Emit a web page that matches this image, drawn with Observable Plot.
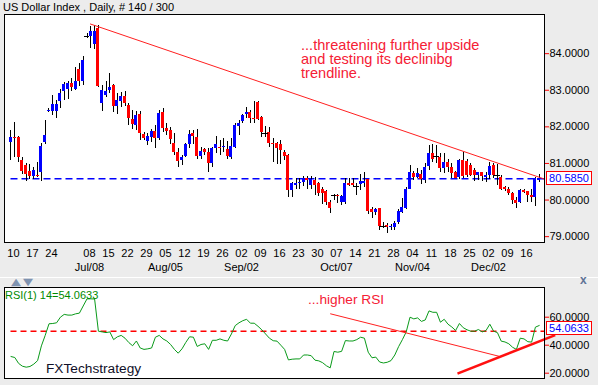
<!DOCTYPE html>
<html><head><meta charset="utf-8">
<script src="https://cdn.jsdelivr.net/npm/d3@7"></script>
<script src="https://cdn.jsdelivr.net/npm/@observablehq/plot@0.6"></script>
<style>
html,body{margin:0;padding:0;background:#ececec;}
#wrap{position:relative;width:598px;height:385px;overflow:hidden;background:#ececec;font-family:"Liberation Sans",Arial,sans-serif;}
.abs{position:absolute;white-space:nowrap;z-index:5;}
#title{left:3px;top:1px;font-size:11px;line-height:12px;color:#000;}
.note1{left:301px;font-size:14.6px;line-height:14px;color:#f52035;}
#note2{left:308px;top:293px;font-size:13.7px;line-height:14px;color:#f52035;}
#rsiLabel{left:5px;top:288.5px;font-size:11px;line-height:12px;color:#008a00;}
#brand{left:46px;top:362px;font-size:13.7px;line-height:14px;color:#101028;}
#sep{left:0;top:277px;width:598px;height:1px;background:#fff;}
#arrows{left:11px;top:278px;font-size:13px;line-height:9px;color:#7f93b0;letter-spacing:2px;font-family:"DejaVu Sans",sans-serif;transform:scaleY(0.75);transform-origin:top left;}
.closeX{left:580px;top:273px;font-size:12px;font-weight:bold;color:#5f7396;}
.box{position:absolute;z-index:5;left:546px;width:44px;height:12px;border:1px solid #ff0000;background:#fff;color:#0000ff;font-size:11px;line-height:12px;text-align:center;}
.svgpos{position:absolute;left:0;z-index:1;}
</style></head><body><div id="wrap">
<div id="sep" class="abs"></div>
<div id="title" class="abs">US Dollar Index , Daily, # 140 / 300</div>
<div id="arrows" class="abs">▲▼</div>
</div>
<script>
const open = [81.57,81.70,81.71,81.09,80.94,80.77,80.65,80.68,80.75,81.57,
82.42,82.42,82.42,82.70,82.97,83.01,83.19,83.03,83.58,83.24,
84.46,84.47,84.26,84.70,82.64,82.85,83.00,83.13,82.56,82.70,
82.83,82.58,82.20,82.05,82.33,81.79,81.60,81.71,81.87,81.69,
82.40,81.96,81.90,81.55,81.30,81.08,81.20,81.53,81.81,81.70,
81.20,81.38,81.30,80.99,81.40,81.44,81.43,81.38,81.17,81.44,
82.02,82.14,82.33,82.40,82.22,82.67,82.26,81.83,81.85,81.55,
81.55,81.53,81.30,81.21,80.25,80.40,80.46,80.47,80.60,80.39,
80.53,80.45,80.29,80.24,79.93,80.12,80.13,79.94,79.94,80.44,
80.44,80.36,80.43,80.45,80.55,79.73,79.66,79.76,79.28,79.30,
79.24,79.25,79.39,79.66,79.78,80.30,80.73,80.62,80.71,80.53,
80.91,81.26,81.18,81.17,80.85,81.03,80.89,80.76,80.62,81.08,
81.06,80.94,80.80,80.67,80.76,80.62,80.67,80.94,80.67,80.62,
80.33,80.28,80.17,80.00,79.94,80.26,80.23,80.12,80.08,80.53];
const high = [81.89,82.12,81.73,81.15,81.00,80.98,80.89,81.03,81.55,82.17,
82.49,82.85,82.71,83.03,83.21,83.24,83.31,83.62,83.72,83.92,
84.55,84.74,84.76,84.76,83.13,83.25,83.47,83.17,82.92,82.93,
82.97,82.64,82.44,82.42,82.42,81.85,81.82,81.94,82.03,82.44,
82.51,82.08,81.99,81.82,81.42,81.21,81.55,81.90,81.90,81.94,
81.44,81.42,81.40,81.44,81.73,81.62,81.67,81.60,81.67,82.10,
82.17,82.35,82.53,82.44,82.69,82.69,82.28,82.01,81.97,81.69,
81.58,81.62,81.35,81.24,80.48,80.60,80.60,80.64,80.64,80.64,
80.62,80.48,80.34,80.27,79.98,80.16,80.16,80.12,80.60,80.60,
80.60,80.44,80.71,80.75,80.57,79.80,79.78,79.78,79.39,79.35,
79.33,79.42,79.73,80.03,80.35,80.94,80.79,80.85,80.80,80.99,
81.49,81.51,81.49,81.26,81.26,81.12,80.99,80.79,81.12,81.30,
81.10,80.99,80.85,80.76,80.76,80.76,81.03,81.00,80.96,80.67,
80.37,80.35,80.21,80.08,80.28,80.28,80.24,80.30,80.62,80.69];
const low = [81.07,81.17,81.03,80.69,80.51,80.57,80.55,80.62,80.51,81.51,
82.39,82.30,82.23,82.51,82.71,82.76,82.97,82.99,83.10,83.12,
84.42,84.15,84.11,83.08,82.43,82.81,82.90,82.40,82.35,82.53,
82.55,82.05,81.92,81.90,81.62,81.64,81.49,81.58,81.41,81.62,
81.85,81.76,81.53,81.21,80.88,80.94,81.17,81.42,81.53,81.10,
81.12,81.21,80.76,80.88,81.26,81.21,81.30,81.12,81.12,81.40,
81.76,82.08,82.23,82.08,82.08,82.17,81.71,81.71,81.44,81.03,
80.97,80.98,81.07,80.07,80.07,80.30,80.30,80.36,80.30,80.30,
80.12,80.09,79.89,79.84,79.63,80.00,79.91,79.86,79.89,80.37,
80.34,80.12,80.25,80.34,79.60,79.50,79.57,79.16,79.21,79.09,
79.16,79.16,79.33,79.62,79.73,80.28,80.53,80.58,80.42,80.44,
80.82,81.03,80.99,80.76,80.73,80.76,80.58,80.58,80.55,80.60,
80.62,80.64,80.51,80.53,80.51,80.49,80.55,80.60,80.39,80.26,
80.24,80.12,79.89,79.78,79.91,80.19,79.94,79.94,79.82,80.48];
const close = [81.71,81.67,81.15,80.78,80.69,80.65,80.80,80.65,81.46,81.76,
82.45,82.60,82.60,82.91,83.15,83.19,83.08,83.23,83.23,83.81,
84.46,84.60,84.60,83.11,82.99,82.96,83.08,82.56,82.72,82.83,
82.64,82.24,82.06,82.31,81.81,81.69,81.73,81.87,81.69,82.37,
81.96,81.87,81.65,81.30,81.06,81.17,81.51,81.79,81.74,81.20,
81.32,81.30,80.99,81.41,81.51,81.40,81.45,81.20,81.46,82.05,
82.08,82.31,82.40,82.22,82.19,82.19,81.85,81.83,81.55,81.51,
81.40,81.35,81.18,80.27,80.45,80.45,80.49,80.60,80.54,80.56,
80.39,80.18,80.18,79.93,79.76,80.12,80.10,80.09,80.44,80.39,
80.39,80.36,80.50,80.50,79.69,79.66,79.73,79.27,79.28,79.24,
79.27,79.36,79.69,79.80,80.30,80.76,80.62,80.73,80.55,80.90,
81.26,81.12,81.18,80.85,81.03,80.90,80.73,80.60,81.08,80.64,
80.67,80.67,80.67,80.76,80.64,80.67,80.91,80.67,80.67,80.30,
80.30,80.17,80.00,79.91,80.26,80.21,80.12,80.08,80.60,80.585];
const rsi = [31.9,31.2,27,25,24.3,24.8,26.5,29,39.5,47,
55.3,55.5,56,60,62,61.5,61.5,62.4,62.9,68,
73.1,73.1,73,50,49.5,49,49.5,44,46,47,
45,41.9,39.6,43,38,37,37.4,38,45.7,47,
44.5,43,40.5,37,34.3,37.4,42,46,45.7,39.1,
40.5,41,37,43.5,43.5,44.5,43.5,43,48,54,
56,57.5,58.5,55.7,55.7,53.5,51,48,45,43.2,
42.9,40,37,29.5,30,30.2,30.2,33,33,32.5,
29.3,28.8,27.5,25.3,23.8,35.5,35,35.6,43.3,43,
43,44,45.7,45,35,31,31.5,28,27.3,27.8,
29,33,39,44,49.5,60,58.8,59.5,57,58,
64.5,63.5,63.5,56.4,58.5,55,53,50.5,55.5,52.5,
51,50,50,51.2,49.5,50.5,55,50,49,42.9,
42.3,41,38.5,37,45,44.5,42.5,42.2,52.9,54.0633];
const dayTickIndex = [0,5,10,20,25,30,35,40,45,50,55,60,65,70,75,80,85,90,95,100,105,110,115,120,125,130,135];
const dayTickLabels = ["10","17","24","08","15","22","29","05","12","19","26","02","09","16","23","30","07","14","21","28","04","11","18","25","02","09","16"];
const monthTickIndex = [20,40,60,85,105,125];
const monthTickLabels = ["Jul/08","Aug/05","Sep/02","Oct/07","Nov/04","Dec/02"];
const priceTicks = [79,80,81,82,83,84];
const rsiTicks = [20,40,60];
const trendline = [{i:20.9,v:84.81},{i:140.2,v:80.58}];
const rsiDownLine = [{i:84.1,v:62.4},{i:128.4,v:32.1}];
const rsiUpLine = [{i:117.8,v:20.0},{i:142.9,v:46.9}];
const lastClose = 80.585;
const lastRsi = 54.0633;
const rsiMid = 50;
const noteLines = ["...threatening further upside","and testing its declinibg","trendline."];

const xDomain = [-1.71, 140.39];
const bars = open.map((o,i)=>({i, o, h:high[i], l:low[i], c:close[i]}));
const up = bars.filter(d=>d.c>d.o), down = bars.filter(d=>d.c<d.o), doji = bars.filter(d=>d.c===d.o);
const dayTicks = dayTickIndex.map((i,k)=>({i, t:dayTickLabels[k]}));
const monthTicks = monthTickIndex.map((i,k)=>({i, t:monthTickLabels[k]}));
const font = {fontFamily:"Liberation Sans, Arial, sans-serif", fontSize:"11px", color:"black", background:"transparent", overflow:"visible"};

const main = Plot.plot({
  width:598, height:275, marginTop:14, marginBottom:33, marginLeft:4, marginRight:54,
  x:{type:"linear", domain:xDomain, axis:null, label:null},
  y:{domain:[78.84,85.07], axis:null, label:null},
  style:font,
  marks:[
    Plot.frame({fill:"white", stroke:null}),
    Plot.ruleY([lastClose], {x1:0, x2:xDomain[1], stroke:"#0000ff", strokeWidth:1.5, strokeDasharray:"7,4"}),
    Plot.ruleX(bars, {x:"i", y1:"l", y2:"h", stroke:"black", shapeRendering:"crispEdges"}),
    Plot.rect(up, {x1:d=>d.i-0.4, x2:d=>d.i+0.4, y1:"o", y2:"c", fill:"#0000ff", shapeRendering:"crispEdges"}),
    Plot.rect(down, {x1:d=>d.i-0.4, x2:d=>d.i+0.4, y1:"o", y2:"c", fill:"#ff0000", shapeRendering:"crispEdges"}),
    Plot.ruleY(doji, {x1:d=>d.i-0.7, x2:d=>d.i+0.7, y:"o", stroke:"black", shapeRendering:"crispEdges"}),
    Plot.line(trendline, {x:"i", y:"v", stroke:"#ff2020", strokeWidth:1}),
    Plot.axisY(priceTicks, {anchor:"right", tickSize:4, color:"#ff0000", text:null, label:null}),
    Plot.axisY(priceTicks, {anchor:"right", tickSize:0, tickPadding:5, color:"black", label:null, tickFormat:d=>d.toFixed(4)}),
    Plot.text(dayTicks, {x:d=>d.i+0.65, text:"t", frameAnchor:"bottom", lineAnchor:"middle", dy:11, fill:"black"}),
    Plot.text(monthTicks, {x:d=>d.i+0.65, text:"t", frameAnchor:"bottom", lineAnchor:"middle", dy:25, fill:"black"}),
    Plot.frame({stroke:"black"})
  ]
});
main.classList.add("svgpos"); main.style.top = "0px";

const rsiPlot = Plot.plot({
  width:598, height:100, marginTop:4, marginBottom:5, marginLeft:4, marginRight:54,
  x:{type:"linear", domain:xDomain, axis:null, label:null},
  y:{domain:[16.21,81.21], axis:null, label:null},
  style:font,
  marks:[
    Plot.frame({fill:"white", stroke:null}),
    Plot.ruleY([rsiMid], {x1:0, x2:xDomain[1], stroke:"#ff0000", strokeWidth:1.5, strokeDasharray:"6,4"}),
    Plot.line(rsi, {x:(d,i)=>i, y:d=>d, stroke:"#0a9a1a", strokeWidth:1}),
    Plot.line(rsiDownLine, {x:"i", y:"v", stroke:"#ff2020", strokeWidth:1}),
    Plot.line(rsiUpLine, {x:"i", y:"v", stroke:"#ff1010", strokeWidth:2.5, strokeLinecap:"square"}),
    Plot.axisY(rsiTicks, {anchor:"right", tickSize:4, color:"#ff0000", text:null, label:null}),
    Plot.axisY(rsiTicks, {anchor:"right", tickSize:0, tickPadding:5, color:"black", label:null, tickFormat:d=>d.toFixed(4)}),
    Plot.frame({stroke:"black"})
  ]
});
rsiPlot.classList.add("svgpos"); rsiPlot.style.top = "283px";

const wrap = document.getElementById("wrap");
wrap.insertBefore(rsiPlot, wrap.firstChild);
wrap.insertBefore(main, wrap.firstChild);

function addDiv(id, cls, text, top){
  const d = document.createElement("div");
  if (id) d.id = id;
  d.className = cls; d.textContent = text;
  if (top !== undefined) d.style.top = top + "px";
  wrap.appendChild(d); return d;
}
noteLines.forEach((t,k)=>addDiv(null,"abs note1",t,38+14*k));
addDiv("note2","abs","...higher RSI");
addDiv("rsiLabel","abs","RSI(1) 14=" + lastRsi.toFixed(4));
addDiv("brand","abs","FXTechstrategy");
addDiv(null,"abs closeX","x");
const yMain = main.scale("y").apply(lastClose);
addDiv(null,"box", lastClose.toFixed(4), Math.round(yMain - 7));
const yRsi = 283 + rsiPlot.scale("y").apply(lastRsi);
addDiv(null,"box", lastRsi.toFixed(4), Math.round(yRsi - 4));
</script>
</body></html>
